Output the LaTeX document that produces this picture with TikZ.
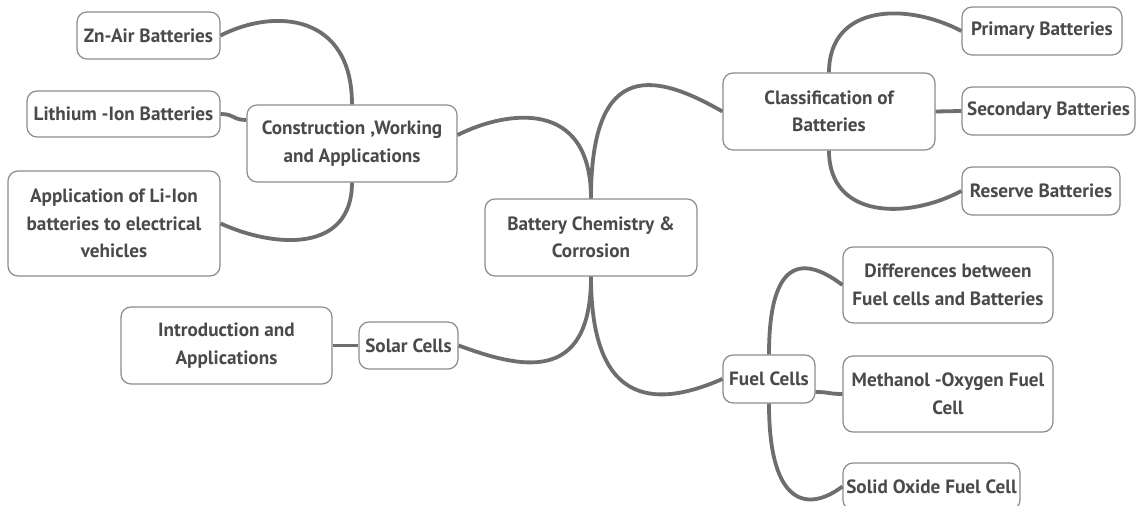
\documentclass[tikz,border=0pt]{standalone}
\usepackage{fontspec}
\setmainfont{PT Sans}
\definecolor{boxc}{HTML}{8C8C8C}
\definecolor{txtc}{HTML}{4A4A4A}
\definecolor{linkc}{HTML}{6E6E6E}
\begin{document}
\begin{tikzpicture}[x=0.5pt,y=-0.5pt,
  box/.style={draw=boxc, line width=0.6pt, rounded corners=5pt, fill=white, text=txtc,
    font=\bfseries\fontsize{9.6}{13.75}\selectfont, align=center, inner sep=0pt},
  link/.style={draw=linkc, line width=1.9pt}]
\clip (0,0) rectangle (1137,506);
\fill[white] (0,0) rectangle (1137,506);

% nodes
\node[box, minimum width=71.5pt, minimum height=23.5pt] (zn) at (148.5,35.5) {Zn-Air Batteries};
\node[box, minimum width=96.5pt, minimum height=23pt] (li) at (123.5,114) {Lithium -Ion Batteries};
\node[box, minimum width=105pt, minimum height=38.5pt] (cons) at (352,143.5) {Construction ,Working\\and Applications};
\node[box, minimum width=106pt, minimum height=52.5pt] (app) at (114,223.5) {Application of Li-Ion\\batteries to electrical\\vehicles};
\node[box, minimum width=106pt, minimum height=38.5pt] (center) at (591,237.5) {Battery Chemistry \&\\Corrosion};
\node[box, minimum width=106pt, minimum height=38.5pt] (class) at (829,111.5) {Classification of\\Batteries};
\node[box, minimum width=80pt, minimum height=24pt] (prim) at (1042,31) {Primary Batteries};
\node[box, minimum width=86.5pt, minimum height=24pt] (sec) at (1048.5,111) {Secondary Batteries};
\node[box, minimum width=79pt, minimum height=24pt] (res) at (1041,191) {Reserve Batteries};
\node[box, minimum width=105pt, minimum height=38pt] (diff) at (948,285) {Differences between\\Fuel cells and Batteries};
\node[box, minimum width=105pt, minimum height=38pt] (meth) at (948,394) {Methanol -Oxygen Fuel\\Cell};
\node[box, minimum width=88.5pt, minimum height=23.5pt] (sofc) at (931.5,486.5) {Solid Oxide Fuel Cell};
\node[box, minimum width=46pt, minimum height=24pt] (fuel) at (769,379) {Fuel Cells};
\node[box, minimum width=49.5pt, minimum height=23.5pt] (solar) at (408.5,345.5) {Solar Cells};
\node[box, minimum width=105.5pt, minimum height=38.5pt] (intro) at (226.5,345.5) {Introduction and\\Applications};

% connectors
\draw[link] (center.north) .. controls +(0,-144) and +(-63,-36) .. (class.west);
\draw[link] (center.north) .. controls +(0,-100) and +(50,-25) .. ([yshift=4.25pt]cons.east);
\draw[link] (center.south) .. controls +(0,110) and +(60,22) .. (solar.east);
\draw[link] (center.south) .. controls +(0,124) and +(-73,32) .. (fuel.west);
\draw[link] (class.north) .. controls +(0,-68) and +(-55,-29) .. (prim.west);
\draw[link] (class.east) -- (sec.west);
\draw[link] (class.south) .. controls +(0,68) and +(-55,29) .. (res.west);
\draw[link] (cons.north) .. controls +(0,-90) and +(55,-28) .. (zn.east);
\draw[link] ([yshift=11.75pt]cons.west) .. controls +(-14,0) and +(14,0) .. (li.east);
\draw[link] (cons.south) .. controls +(0,70) and +(55,25) .. (app.east);
\draw[link] (solar.west) -- (intro.east);
\draw[link] (fuel.north) .. controls +(0,-105) and +(-33,-25) .. (diff.west);
\draw[link] ([yshift=-6.5pt]fuel.east) .. controls +(14,0) and +(-14,0) .. (meth.west);
\draw[link] (fuel.south) .. controls +(0,105) and +(-33,25) .. (sofc.west);
\end{tikzpicture}
\end{document}
